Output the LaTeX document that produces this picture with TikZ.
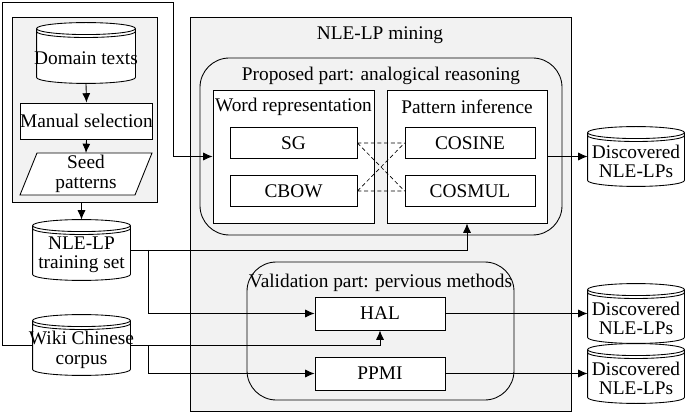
\documentclass[tikz,border=0pt]{standalone}
\usepackage{fontspec}
\setmainfont{Liberation Serif}
\usetikzlibrary{arrows.meta,calc}
\begin{document}
\begin{tikzpicture}[x=0.75pt,y=-0.75pt,line width=0.65pt,
  sz/.style 2 args={minimum width=#1*0.75pt,minimum height=#2*0.75pt,inner sep=0pt},
  box/.style={draw,fill=white,align=center},
  grayb/.style={draw,fill=gray!10},
  arr/.style={-{Latex[length=7pt,width=6pt]}},
  every node/.style={font=\fontsize{14.5}{14.5}\selectfont}]
\useasboundingbox (0,0) rectangle (685,413);
\newcommand\mycyl[1]{%
 \path let \p1=(#1.north west), \p2=(#1.south east), \n1={(\x2-\x1)/2} in
  [draw,fill=white] (\x1,\y1-4.5pt) -- (\x1,\y2+4.5pt) arc[start angle=180,end angle=360,x radius=\n1,y radius=4.5pt]
   -- (\x2,\y1-4.5pt) arc[start angle=0,end angle=180,x radius=\n1,y radius=4.5pt] -- cycle
  (\x1,\y1-4.5pt) arc[start angle=180,end angle=360,x radius=\n1,y radius=4.5pt]
  (\x1,\y1-6.7pt) arc[start angle=180,end angle=360,x radius=\n1,y radius=4.5pt];}
% left group
\node[grayb,sz={145}{185}] (lb) at (84.5,109.5) {};
\node[sz={98}{60}] (dom) at (86,53) {};
\mycyl{dom}
\node at (86,58) {Domain texts};
\node[box,sz={129}{36}] (man) at (86.5,121) {Manual selection};
\draw[fill=white] (20,195) -- (37,153) -- (152,153) -- (135,195) -- cycle;
\node[align=center,sz={115}{42}] (seed) at (86,174) {Seed\\patterns};
\node[sz={97}{60}] (train) at (81.5,250) {};
\mycyl{train}
\node[align=center] at (81.5,255) {NLE-LP\\training set};
\node[sz={97}{60}] (wiki) at (81.5,345) {};
\mycyl{wiki}
\node[align=center] at (81.5,350) {Wiki Chinese\\corpus};
% big box
\node[grayb,sz={381}{394}] (big) at (380.5,214) {};
\node (t1) at (380,35) {NLE-LP mining};
\node[draw,fill=gray!10,rounded corners=22pt,sz={362}{177}] (prop) at (381,146.5) {};
\node (t2) at (381,76) {Proposed part: analogical reasoning};
\node[box,sz={161}{133}] (wr) at (293.5,156.5) {};
\node[box,sz={160}{133}] (pi) at (467,156.5) {};
\node (t3) at (293.5,107) {Word representation};
\node (t4) at (467,107) {Pattern inference};
\node[box,sz={127}{31}] (sg) at (293.5,143) {SG};
\node[box,sz={127}{31}] (cbow) at (293.5,191) {CBOW};
\node[box,sz={130}{31}] (cosine) at (470,143) {COSINE};
\node[box,sz={130}{31}] (cosmul) at (470,191) {COSMUL};
\draw[densely dashed,line width=0.5pt] (sg.east) -- (cosine.west) (cbow.east) -- (cosmul.west)
  (sg.east) -- (cosmul.west) (cbow.east) -- (cosine.west);
\node[draw,fill=gray!10,rounded corners=22pt,sz={267}{138}] (val) at (380.5,331) {};
\node (t5) at (380.5,283) {Validation part: pervious methods};
\node[box,sz={130}{33}] (hal) at (380,313.5) {HAL};
\node[box,sz={130}{33}] (ppmi) at (380,373.5) {PPMI};
% outputs
\foreach \nm/\yy in {d1/156.5,d2/313.5,d3/373.5}{
 \node[sz={96}{59}] (\nm) at (636,\yy) {};
 \mycyl{\nm}
 \node[align=center] at (636,\yy+5) {Discovered\\NLE-LPs};
}
% connectors
\draw[arr] (dom.south) -- (man.north);
\draw[arr] (man.south) -- (86,153);
\draw[arr] (lb.south -| train.north) -- (train.north);
\draw[arr] (wiki.west) -| (2,2) -| (173,156.5) -- (wr.west);
\draw[arr] (train.east) -| (pi.south);
\draw[arr] ([xshift=18*0.75pt]train.east) |- (hal.west);
\draw[arr] (wiki.east) -| (hal.south);
\draw[arr] ([xshift=18*0.75pt]wiki.east) |- (ppmi.west);
\draw[arr] (pi.east) -- (d1.west);
\draw[arr] (hal.east) -- (d2.west);
\draw[arr] (ppmi.east) -- (d3.west);
\end{tikzpicture}
\end{document}
